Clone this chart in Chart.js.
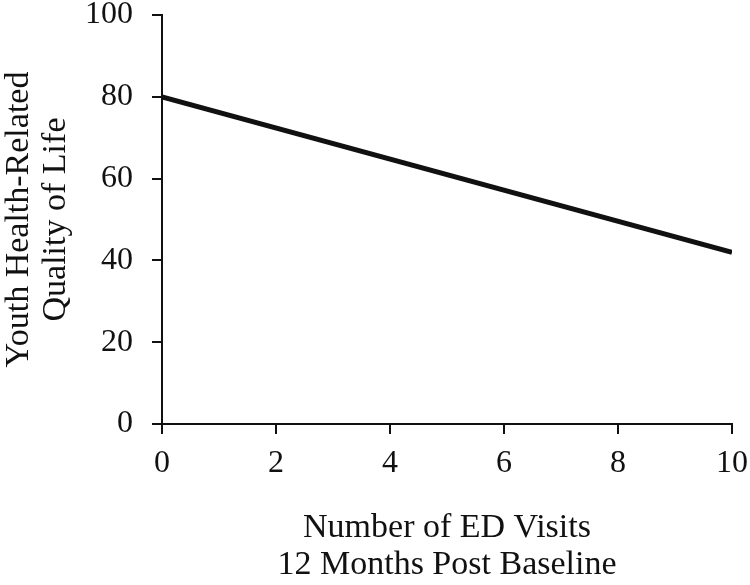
<!DOCTYPE html>
<html>
<head>
<meta charset="utf-8">
<script src="https://cdn.jsdelivr.net/npm/chart.js@4.4.0/dist/chart.umd.min.js"></script>
<style>
  html, body { margin: 0; padding: 0; background: #fff; }
  #wrap { width: 750px; height: 585px; position: relative; }
</style>
</head>
<body>
<div id="wrap"><canvas id="chart"></canvas></div>
<script>
  // Données
  const edVisits = [0, 10];
  const qualityOfLife = [80, 42];
  const yTicks = [0, 20, 40, 60, 80, 100];
  const xTicks = [0, 2, 4, 6, 8, 10];
  const yTitle = ['Youth Health-Related', 'Quality of Life'];
  const xTitle = ['Number of ED Visits', '12 Months Post Baseline'];

  const serif = '"Liberation Serif", "Times New Roman", serif';
  const ink = '#111';

  const points = edVisits.map((x, i) => ({ x, y: qualityOfLife[i] }));

  new Chart(document.getElementById('chart').getContext('2d'), {
    type: 'line',
    data: {
      datasets: [{
        data: points,
        borderColor: ink,
        borderWidth: 5,
        pointRadius: 0,
        tension: 0,
        fill: false
      }]
    },
    options: {
      responsive: true,
      maintainAspectRatio: false,
      animation: false,
      layout: { padding: { top: 15, right: 18, left: 0, bottom: 0 } },
      plugins: { legend: { display: false }, tooltip: { enabled: false } },
      scales: {
        x: {
          type: 'linear',
          min: xTicks[0],
          max: xTicks[xTicks.length - 1],
          afterBuildTicks: (s) => { s.ticks = xTicks.map(v => ({ value: v })); },
          afterFit: (s) => { s.height = 161; s.paddingLeft = 0; s.paddingRight = 0; },
          border: { display: true, color: ink, width: 2 },
          grid: { drawOnChartArea: false, drawTicks: true, tickLength: 10, color: ink, lineWidth: 2 },
          ticks: { color: ink, padding: 10, font: { family: serif, size: 32 }, maxRotation: 0 },
          title: {
            display: true,
            text: xTitle,
            color: ink,
            padding: { top: 0, bottom: 1 },
            font: { family: serif, size: 34, lineHeight: 1.1 }
          }
        },
        y: {
          min: yTicks[0],
          max: yTicks[yTicks.length - 1],
          afterBuildTicks: (s) => { s.ticks = yTicks.map(v => ({ value: v })); },
          afterFit: (s) => { s.width = 162; s.paddingTop = 0; s.paddingBottom = 0; },
          border: { display: true, color: ink, width: 2 },
          grid: { drawOnChartArea: false, drawTicks: true, tickLength: 10, color: ink, lineWidth: 2 },
          ticks: { color: ink, padding: 19, font: { family: serif, size: 32 } },
          title: {
            display: true,
            text: yTitle,
            color: ink,
            padding: { top: 0, bottom: 0 },
            font: { family: serif, size: 34, lineHeight: 1.1 }
          }
        }
      }
    }
  });
</script>
</body>
</html>
